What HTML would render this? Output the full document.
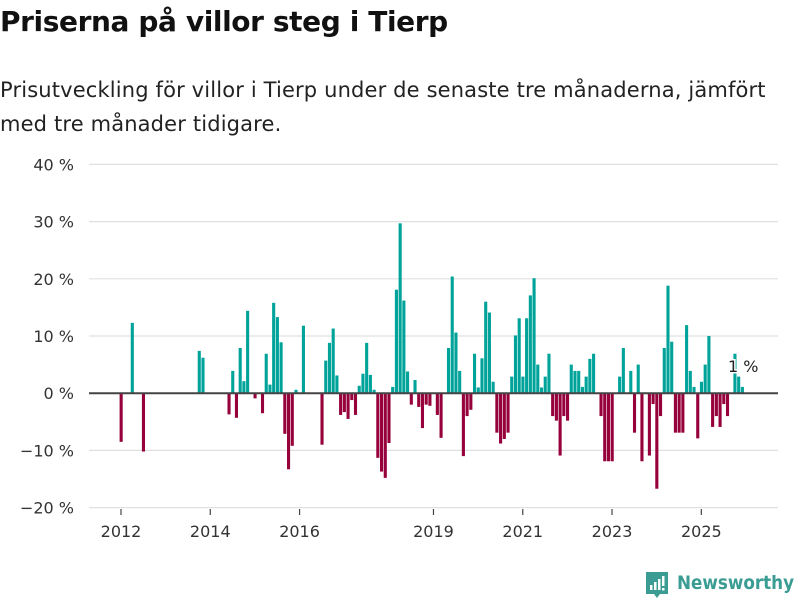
<!DOCTYPE html>
<html><head><meta charset="utf-8">
<style>
body{margin:0;background:#fff;font-family:"Liberation Sans","DejaVu Sans",sans-serif;}
#wrap{position:relative;width:800px;height:600px;overflow:hidden;}
h1{position:absolute;left:0;top:5px;margin:0;font-size:28px;font-weight:bold;color:#111;font-family:"DejaVu Sans","Liberation Sans",sans-serif;letter-spacing:-0.4px}
p{position:absolute;left:0;top:73px;margin:0;font-size:21px;line-height:34px;color:#222;font-family:"DejaVu Sans","Liberation Sans",sans-serif;width:790px;letter-spacing:0.15px}
svg{position:absolute;left:0;top:0}
</style></head><body>
<div id="wrap">
<h1>Priserna på villor steg i Tierp</h1>
<p>Prisutveckling för villor i Tierp under de senaste tre månaderna, jämfört med tre månader tidigare.</p>
<svg id="chart" width="800" height="600"></svg>
</div>
<script>
const startYear = 2012;
const values = {0:-8.5,3:12.3,6:-10.2,21:7.4,22:6.2,29:-3.7,30:3.9,31:-4.3,32:7.9,33:2.1,34:14.4,36:-0.9,38:-3.5,39:6.9,40:1.5,41:15.8,42:13.3,43:8.9,44:-7.1,45:-13.3,46:-9.2,47:0.6,49:11.8,54:-9.0,55:5.7,56:8.8,57:11.3,58:3.1,59:-3.8,60:-3.3,61:-4.5,62:-1.2,63:-3.8,64:1.3,65:3.4,66:8.8,67:3.2,68:0.6,69:-11.3,70:-13.7,71:-14.8,72:-8.7,73:1.1,74:18.1,75:29.7,76:16.2,77:3.8,78:-2.0,79:2.3,80:-2.4,81:-6.1,82:-2.0,83:-2.2,85:-3.8,86:-7.8,88:7.9,89:20.4,90:10.6,91:3.9,92:-11.0,93:-4.0,94:-2.9,95:6.9,96:1.0,97:6.1,98:16.0,99:14.1,100:2.0,101:-6.9,102:-8.8,103:-8.0,104:-6.9,105:2.9,106:10.1,107:13.1,108:2.9,109:13.1,110:17.1,111:20.1,112:5.0,113:1.0,114:2.9,115:6.9,116:-4.0,117:-4.8,118:-10.9,119:-4.0,120:-4.8,121:5.0,122:3.9,123:3.9,124:1.1,125:2.9,126:6.0,127:6.9,129:-4.0,130:-11.9,131:-11.9,132:-11.9,134:2.9,135:7.9,137:3.9,138:-6.9,139:5.0,140:-11.9,142:-10.9,143:-1.9,144:-16.7,145:-4.0,146:7.9,147:18.8,148:9.0,149:-6.9,150:-6.9,151:-6.9,152:11.9,153:3.9,154:1.1,155:-7.9,156:2.0,157:5.0,158:10.0,159:-5.9,160:-4.0,161:-5.9,162:-1.9,163:-4.0,165:6.9,166:2.9,167:1.1};
const yTicks = [40,30,20,10,0,-10,-20];
const xTickYears = [2012,2014,2016,2019,2021,2023,2025];
const lastLabel = "1 %";

const svg = document.getElementById('chart');
const NS = 'http://www.w3.org/2000/svg';
const x0 = 121, pxPerMonth = 3.72;
const xs = m => x0 + m * pxPerMonth;
const y = v => 393.2 - v * 5.72;
function mk(tag, attrs){const e=document.createElementNS(NS,tag);for(const k in attrs)e.setAttribute(k,attrs[k]);svg.appendChild(e);return e;}

yTicks.forEach(t=>{
  if(t!==0){const g=mk('line',{x1:89,x2:778,y1:y(t),y2:y(t),stroke:'#e0e0e0','stroke-width':1.2});
  
  }
  const l=mk('text',{x:74,y:y(t)+6,'text-anchor':'end','font-size':16,fill:'#333','font-family':'DejaVu Sans, Liberation Sans, sans-serif'});
  l.textContent=(t<0?'\u2212'+(-t):t)+' %';
  
  
});
xTickYears.forEach(yr=>{
  const xx=xs((yr-startYear)*12);
  const tk=mk('line',{x1:xx,x2:xx,y1:509,y2:515,stroke:'#444','stroke-width':1.2});
  
  
  const l=mk('text',{x:xx,y:537,'text-anchor':'middle','font-size':16,fill:'#333','font-family':'DejaVu Sans, Liberation Sans, sans-serif'});
  l.textContent=yr;
  
  
});
Object.keys(values).forEach(k=>{
  const m=+k,v=values[k];
  const top=Math.min(y(v),y(0)),h=Math.abs(y(v)-y(0));
  const r=mk('rect',{x:xs(m)-1.4,y:top,width:3.1,height:h,fill:v>=0?'#00a39a':'#96003b'});
  
  
});
const z=mk('line',{x1:89,x2:778,y1:y(0),y2:y(0),stroke:'#444','stroke-width':2});


const lastM=Math.max(...Object.keys(values).map(Number));
const an=mk('text',{x:xs(lastM)+1,y:372,'text-anchor':'middle','font-size':16,fill:'#222','font-family':'DejaVu Sans, Liberation Sans, sans-serif',stroke:'#fff','stroke-width':3,'paint-order':'stroke'});
an.textContent=lastLabel;



const lg=mk('g',{});


lg.innerHTML='<path d="M646 572 h22 v22 h-8 l-3 4 l-3 -4 h-8 z" fill="#3a9c92"/><rect x="650" y="585" width="2.5" height="5" fill="#fff"/><rect x="654" y="582" width="2.5" height="8" fill="#fff"/><rect x="658" y="579" width="2.5" height="11" fill="#fff"/><rect x="662" y="576" width="2.5" height="10" fill="#fff"/><rect x="662" y="588" width="2.5" height="2.5" fill="#fff"/><text x="677" y="589" font-size="19" font-weight="bold" fill="#3a9c92" textLength="117" lengthAdjust="spacingAndGlyphs" font-family="DejaVu Sans, Liberation Sans, sans-serif">Newsworthy</text>';
</script>
</body></html>
